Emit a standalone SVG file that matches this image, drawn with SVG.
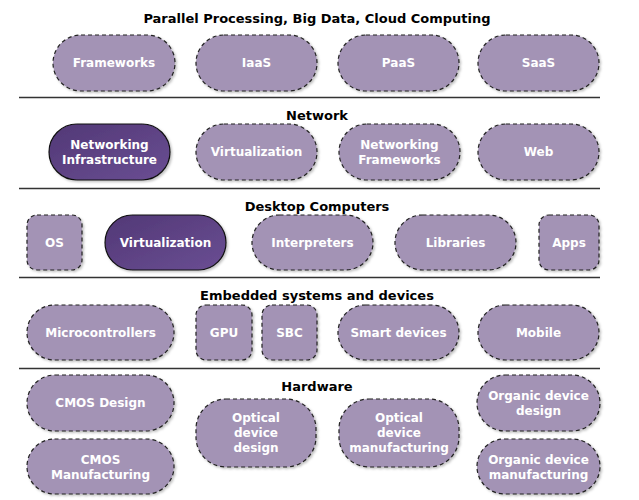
<svg xmlns="http://www.w3.org/2000/svg" width="639" height="500" viewBox="0 0 639 500">
<style>
.n{fill:#A393B5;stroke:#222;stroke-width:1.2;stroke-dasharray:4,3;filter:url(#sh)}
.d{fill:url(#dg);stroke:#111;stroke-width:1.2;filter:url(#sh)}
.t{font-family:"DejaVu Sans",Verdana,sans-serif;font-weight:bold;font-size:12px;fill:#fff;text-anchor:middle}
.h{font-family:"DejaVu Sans",Verdana,sans-serif;font-weight:bold;font-size:13px;fill:#000;text-anchor:middle}
.l{stroke:#333;stroke-width:1.5}
</style>
<defs>
<linearGradient id="dg" x1="0" y1="0" x2="1" y2="1">
<stop offset="0" stop-color="#523876"/>
<stop offset="1" stop-color="#6A4E93"/>
</linearGradient>
<filter id="sh" x="-10%" y="-10%" width="125%" height="130%">
<feDropShadow dx="1.5" dy="1.5" stdDeviation="1" flood-color="#000" flood-opacity="0.25"/>
</filter>
</defs>
<g id="separators">
<line class="l" x1="19" y1="97.5" x2="600" y2="97.5"/>
<line class="l" x1="19" y1="188.5" x2="600" y2="188.5"/>
<line class="l" x1="19" y1="277.5" x2="600" y2="277.5"/>
<line class="l" x1="19" y1="368.5" x2="600" y2="368.5"/>
</g>
<g id="headers">
<text class="h" x="317" y="23">Parallel Processing, Big Data, Cloud Computing</text>
<text class="h" x="317" y="120">Network</text>
<text class="h" x="317" y="211">Desktop Computers</text>
<text class="h" x="317" y="300">Embedded systems and devices</text>
<text class="h" x="317" y="391">Hardware</text>
</g>
<g id="connectors"></g>
<g id="frameworks"><rect class="n" x="53" y="35" width="122" height="56" rx="28"/><text class="t" x="114" y="67">Frameworks</text></g>
<g id="iaas"><rect class="n" x="196" y="35" width="121" height="56" rx="28"/><text class="t" x="256.5" y="67">IaaS</text></g>
<g id="paas"><rect class="n" x="338" y="35" width="121" height="56" rx="28"/><text class="t" x="398.5" y="67">PaaS</text></g>
<g id="saas"><rect class="n" x="478" y="35" width="121" height="56" rx="28"/><text class="t" x="538.5" y="67">SaaS</text></g>

<g id="net-infra"><rect class="d" x="49" y="124" width="121" height="56" rx="28"/><text class="t" x="109.5" y="149">Networking</text><text class="t" x="109.5" y="164">Infrastructure</text></g>
<g id="net-virt"><rect class="n" x="196" y="124" width="121" height="56" rx="28"/><text class="t" x="256.5" y="156">Virtualization</text></g>
<g id="net-frameworks"><rect class="n" x="339" y="124" width="121" height="56" rx="28"/><text class="t" x="399.5" y="149">Networking</text><text class="t" x="399.5" y="164">Frameworks</text></g>
<g id="web"><rect class="n" x="478" y="124" width="121" height="56" rx="28"/><text class="t" x="538.5" y="156">Web</text></g>

<g id="os"><rect class="n" x="27" y="215" width="55" height="55" rx="10"/><text class="t" x="54.5" y="246.5">OS</text></g>
<g id="desk-virt"><rect class="d" x="105" y="215" width="121" height="55" rx="27.5"/><text class="t" x="165.5" y="246.5">Virtualization</text></g>
<g id="interpreters"><rect class="n" x="252" y="215" width="121" height="55" rx="27.5"/><text class="t" x="312.5" y="246.5">Interpreters</text></g>
<g id="libraries"><rect class="n" x="395" y="215" width="121" height="55" rx="27.5"/><text class="t" x="455.5" y="246.5">Libraries</text></g>
<g id="apps"><rect class="n" x="539" y="215" width="60" height="55" rx="10"/><text class="t" x="569" y="246.5">Apps</text></g>

<g id="microcontrollers"><rect class="n" x="27" y="305" width="147" height="55" rx="27.5"/><text class="t" x="100.5" y="337">Microcontrollers</text></g>
<g id="gpu"><rect class="n" x="196" y="305" width="56" height="55" rx="10"/><text class="t" x="224" y="337">GPU</text></g>
<g id="sbc"><rect class="n" x="262" y="305" width="55" height="55" rx="10"/><text class="t" x="289.5" y="337">SBC</text></g>
<g id="smart-devices"><rect class="n" x="338" y="305" width="121" height="55" rx="27.5"/><text class="t" x="398.5" y="337">Smart devices</text></g>
<g id="mobile"><rect class="n" x="478" y="305" width="121" height="55" rx="27.5"/><text class="t" x="538.5" y="337">Mobile</text></g>

<g id="cmos-design"><rect class="n" x="27" y="375" width="147" height="56" rx="28"/><text class="t" x="100.5" y="407">CMOS Design</text></g>
<g id="cmos-manufacturing"><rect class="n" x="27" y="439" width="147" height="55" rx="27.5"/><text class="t" x="100.5" y="464">CMOS</text><text class="t" x="100.5" y="479">Manufacturing</text></g>
<g id="optical-design"><rect class="n" x="196" y="399" width="120" height="68" rx="30"/><text class="t" x="256" y="422">Optical</text><text class="t" x="256" y="437">device</text><text class="t" x="256" y="452">design</text></g>
<g id="optical-manufacturing"><rect class="n" x="339" y="399" width="120" height="68" rx="30"/><text class="t" x="399" y="422">Optical</text><text class="t" x="399" y="437">device</text><text class="t" x="399" y="452">manufacturing</text></g>
<g id="organic-design"><rect class="n" x="477" y="375" width="123" height="56" rx="28"/><text class="t" x="538.5" y="400">Organic device</text><text class="t" x="538.5" y="415">design</text></g>
<g id="organic-manufacturing"><rect class="n" x="477" y="439" width="123" height="55" rx="27.5"/><text class="t" x="538.5" y="464">Organic device</text><text class="t" x="538.5" y="479">manufacturing</text></g>
</svg>
